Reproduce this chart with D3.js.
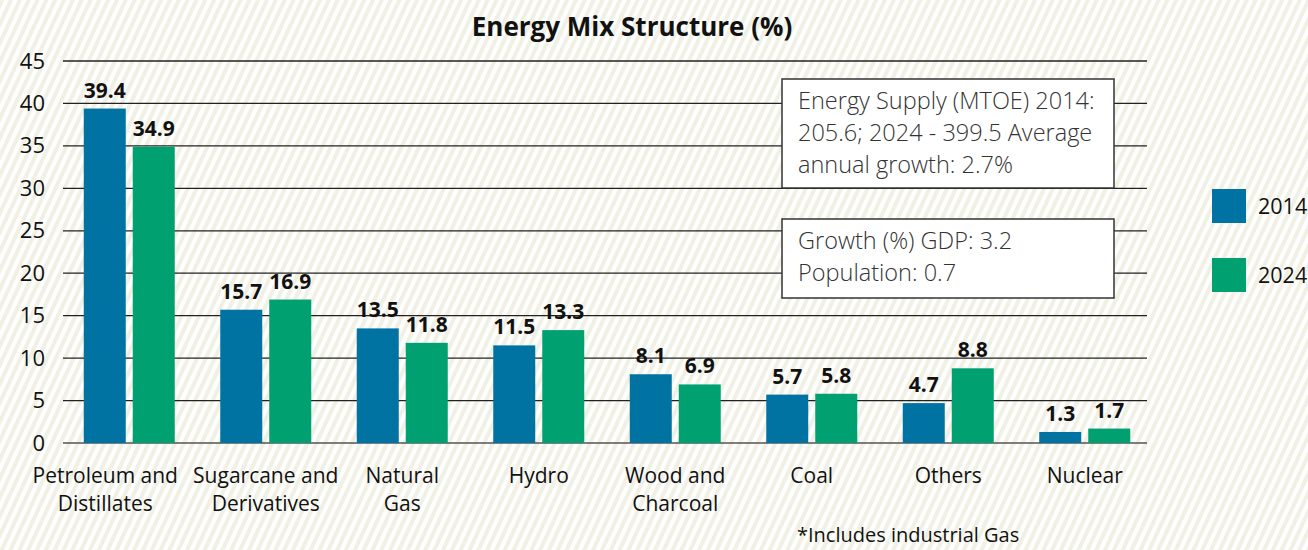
<!DOCTYPE html>
<html>
<head>
    <title>Energy Mix Structure</title>
    <style>
        body { margin: 0; background: #fff; }
        svg text { font-family: "Open Sans", "Noto Sans", sans-serif; }
    </style>
</head>
<body>
    <div id="chart"></div>
    <script src="https://d3js.org/d3.v7.min.js"></script>
    <script>
        // chart data
        const categories = [
            ["Petroleum and", "Distillates"],
            ["Sugarcane and", "Derivatives"],
            ["Natural", "Gas"],
            ["Hydro"],
            ["Wood and", "Charcoal"],
            ["Coal"],
            ["Others"],
            ["Nuclear"]
        ];
        const years = ["2014", "2024"];
        const values2014 = [39.4, 15.7, 13.5, 11.5, 8.1, 5.7, 4.7, 1.3];
        const values2024 = [34.9, 16.9, 11.8, 13.3, 6.9, 5.8, 8.8, 1.7];
        const yTicks = [0, 5, 10, 15, 20, 25, 30, 35, 40, 45];
        const colors = ["#0073a3", "#00a070"];

        const W = 1308, H = 550;
        const svg = d3.select("#chart").append("svg")
            .attr("width", W)
            .attr("height", H);

        // striped background
        const pat = svg.append("defs").append("pattern")
            .attr("id", "stripes")
            .attr("patternUnits", "userSpaceOnUse")
            .attr("width", 8).attr("height", 8)
            .attr("patternTransform", "rotate(25)");
        pat.append("rect").attr("width", 8).attr("height", 8).attr("fill", "#ffffff");
        pat.append("rect").attr("width", 4).attr("height", 8).attr("fill", "#f0f0e4");
        svg.append("rect").attr("width", W).attr("height", H).attr("fill", "url(#stripes)");

        const x = d3.scaleBand()
            .domain(d3.range(categories.length))
            .range([61, 1153]);
        const y = d3.scaleLinear().domain([0, 45]).range([443, 61]);

        // gridlines
        svg.selectAll(".grid").data(yTicks).enter().append("line")
            .attr("x1", 63).attr("x2", 1147)
            .attr("y1", d => y(d)).attr("y2", d => y(d))
            .attr("stroke", d => d === 0 ? "#555" : "#222")
            .attr("stroke-width", 1.3);

        // y axis labels
        const yAxis = svg.append("g")
            .attr("transform", "translate(63,0)")
            .call(d3.axisLeft(y).tickValues(yTicks).tickSize(0).tickPadding(18));
        yAxis.select(".domain").remove();
        yAxis.selectAll("text")
            .attr("font-size", 22).attr("fill", "#111")
            .style("font-family", "'Open Sans', sans-serif");

        // bars
        const barW = 42, gap = 7;
        const series = [values2014, values2024];
        series.forEach((vals, s) => {
            const xOff = s === 0 ? -(barW + gap / 2) : gap / 2;
            const g = svg.append("g");
            g.selectAll("rect").data(vals).enter().append("rect")
                .attr("x", (d, i) => x(i) + x.bandwidth() / 2 + xOff)
                .attr("y", d => y(d))
                .attr("width", barW)
                .attr("height", d => y(0) - y(d))
                .attr("fill", colors[s]);
            g.selectAll("text").data(vals).enter().append("text")
                .attr("x", (d, i) => x(i) + x.bandwidth() / 2 + xOff + barW / 2)
                .attr("y", d => y(d) - 11)
                .attr("text-anchor", "middle")
                .attr("font-size", 21).attr("font-weight", "bold").attr("fill", "#111")
                .text(d => d.toFixed(1));
        });

        // category labels (first one nudged left so it doesn't run into the next)
        const cat = svg.append("g").selectAll("text").data(categories).enter().append("text")
            .attr("x", (d, i) => x(i) + x.bandwidth() / 2 - (i === 0 ? 24 : 0))
            .attr("y", 483)
            .attr("text-anchor", "middle")
            .attr("font-size", 21).attr("fill", "#111");
        cat.selectAll("tspan").data(d => d).enter().append("tspan")
            .attr("x", function () { return d3.select(this.parentNode).attr("x"); })
            .attr("dy", (d, i) => i === 0 ? 0 : 28)
            .text(d => d);

        // title
        svg.append("text")
            .attr("x", 632).attr("y", 36)
            .attr("text-anchor", "middle")
            .attr("font-size", 26).attr("font-weight", "bold").attr("fill", "#111")
            .text("Energy Mix Structure (%)");

        // annotation boxes
        const notes = [
            { y0: 79, h: 109, lines: ["Energy Supply (MTOE) 2014:", "205.6; 2024 - 399.5 Average", "annual growth: 2.7%"] },
            { y0: 219, h: 79, lines: ["Growth (%) GDP: 3.2", "Population: 0.7"] }
        ];
        notes.forEach(n => {
            svg.append("rect")
                .attr("x", 782).attr("y", n.y0).attr("width", 332).attr("height", n.h)
                .attr("fill", "#fff").attr("stroke", "#333").attr("stroke-width", 1.5);
            svg.append("g").selectAll("text").data(n.lines).enter().append("text")
                .attr("x", 798)
                .attr("y", (d, i) => n.y0 + 30 + i * 32)
                .attr("font-size", 23.5).attr("font-weight", 300).attr("fill", "#333")
                .text(d => d);
        });

        // legend
        const leg = svg.append("g").selectAll("g").data(years).enter().append("g")
            .attr("transform", (d, i) => `translate(1212,${189 + i * 69})`);
        leg.append("rect").attr("width", 34).attr("height", 34).attr("fill", (d, i) => colors[i]);
        leg.append("text").attr("x", 46).attr("y", 25)
            .attr("font-size", 21.5).attr("fill", "#111")
            .text(d => d);

        // footnote
        svg.append("text")
            .attr("x", 797).attr("y", 542)
            .attr("font-size", 20).attr("fill", "#111")
            .text("*Includes industrial Gas");
    </script>
</body>
</html>
